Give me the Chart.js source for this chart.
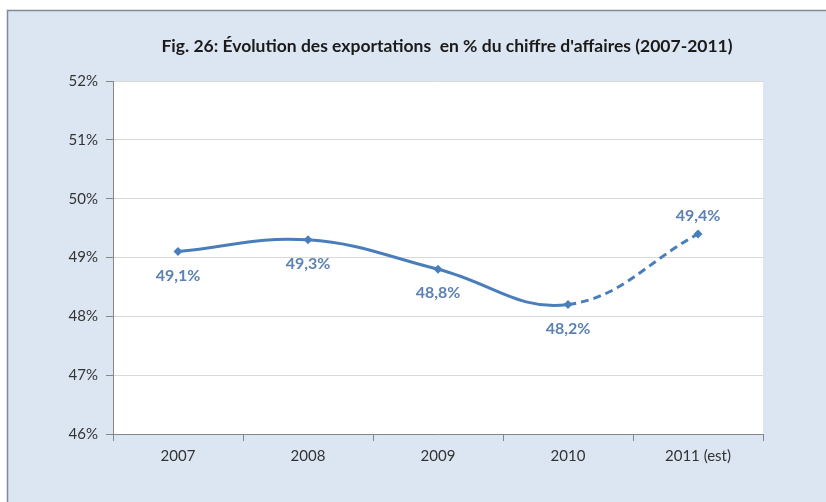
<!DOCTYPE html>
<html>
<head>
<meta charset="utf-8">
<script src="https://cdn.jsdelivr.net/npm/chart.js@4"></script>
<style>
  html, body { margin: 0; padding: 0; background: #ffffff; }
  #wrap { position: relative; width: 826px; height: 502px; }
</style>
</head>
<body>
<div id="wrap"><canvas id="exportChart" width="826" height="502"></canvas></div>
<script>
// Exportations en % du chiffre d'affaires
const years = ['2007', '2008', '2009', '2010', '2011 (est)'];
const exportShare = [49.1, 49.3, 48.8, 48.2, 49.4];
const labelAbove = [false, false, false, false, true];
const yTicks = [46, 47, 48, 49, 50, 51, 52];

const lineColor = '#4a7ebb';
const labelColor = '#5b82b3';
const fontFamily = 'Lato, "Open Sans", sans-serif';

// panel background, border, white plot area and title
const backgroundPlugin = {
    id: 'panel',
    beforeDraw(chart) {
        const ctx = chart.ctx;
        const a = chart.chartArea;
        ctx.save();
        ctx.fillStyle = '#dce6f2';
        ctx.fillRect(7, 10, chart.width - 7, chart.height - 10);
        ctx.strokeStyle = '#7f8b98';
        ctx.lineWidth = 1.5;
        ctx.beginPath();
        ctx.moveTo(7.5, chart.height);
        ctx.lineTo(7.5, 10.5);
        ctx.lineTo(chart.width, 10.5);
        ctx.stroke();
        ctx.fillStyle = '#ffffff';
        ctx.fillRect(a.left, a.top, a.right - a.left, a.bottom - a.top);

        ctx.fillStyle = '#1a1a1a';
        ctx.font = 'bold 17.5px ' + fontFamily;
        ctx.textAlign = 'center';
        ctx.textBaseline = 'middle';
        ctx.fillText("Fig. 26: Évolution des exportations  en % du chiffre d'affaires (2007-2011)", 447, 46);
        ctx.restore();
    }
};

// value labels next to each point
const valueLabels = {
    id: 'valueLabels',
    afterDatasetsDraw(chart) {
        const ctx = chart.ctx;
        const meta = chart.getDatasetMeta(0);
        ctx.save();
        ctx.fillStyle = labelColor;
        ctx.font = 'bold 16px ' + fontFamily;
        ctx.textAlign = 'center';
        ctx.textBaseline = 'middle';
        meta.data.forEach((pt, i) => {
            const txt = exportShare[i].toFixed(1).replace('.', ',') + '%';
            const dy = labelAbove[i] ? -18 : 24;
            ctx.fillText(txt, pt.x, pt.y + dy);
        });
        ctx.restore();
    }
};

new Chart(document.getElementById('exportChart'), {
    type: 'line',
    data: {
        labels: years,
        datasets: [{
            data: exportShare,
            borderColor: lineColor,
            backgroundColor: lineColor,
            borderWidth: 3,
            tension: 0.4,
            pointStyle: 'rectRot',
            pointRadius: 4.5,
            pointBorderWidth: 0,
            segment: {
                borderDash: ctx => ctx.p1DataIndex === years.length - 1 ? [8, 5] : undefined
            }
        }]
    },
    options: {
        responsive: false,
        animation: false,
        layout: {
            padding: { left: 53, right: 63, top: 81, bottom: 28 }
        },
        plugins: {
            legend: { display: false },
            tooltip: { enabled: false }
        },
        scales: {
            x: {
                offset: true,
                afterFit: s => { s.height = 40; },
                border: { color: '#868686', width: 1 },
                grid: {
                    offset: true,
                    drawOnChartArea: false,
                    drawTicks: true,
                    tickLength: 7,
                    color: '#868686'
                },
                ticks: {
                    color: '#333333',
                    font: { family: fontFamily, size: 15 },
                    padding: 6
                }
            },
            y: {
                min: 46,
                max: 52,
                afterFit: s => { s.width = 60; },
                afterBuildTicks: s => { s.ticks = yTicks.map(v => ({ value: v })); },
                border: { color: '#868686', width: 1 },
                grid: {
                    color: '#d9d9d9',
                    lineWidth: 1,
                    tickColor: '#868686',
                    tickLength: 7
                },
                ticks: {
                    color: '#333333',
                    font: { family: fontFamily, size: 15 },
                    padding: 8,
                    callback: v => v + '%'
                }
            }
        }
    },
    plugins: [backgroundPlugin, valueLabels]
});
</script>
</body>
</html>
